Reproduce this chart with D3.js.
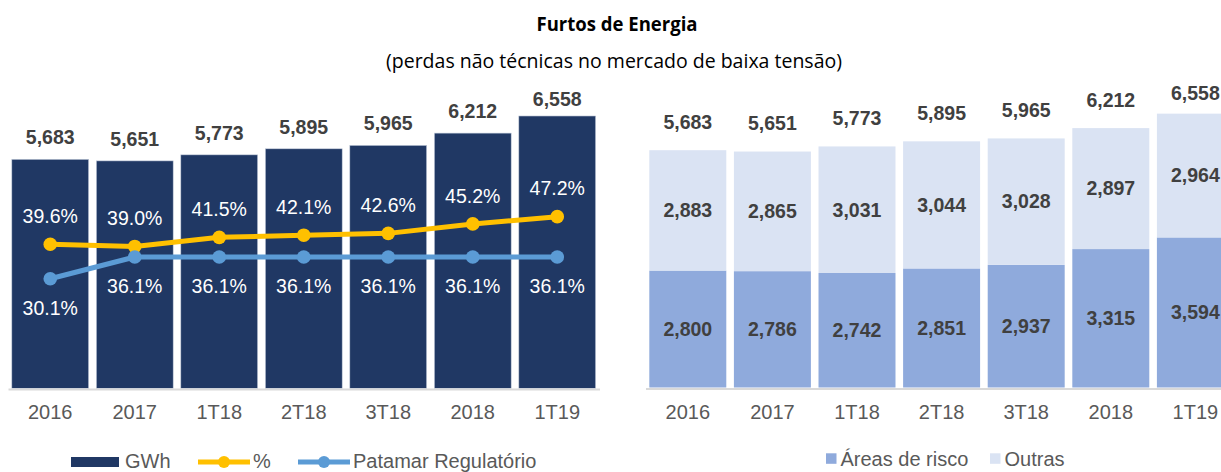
<!DOCTYPE html>
<html>
<head>
<meta charset="utf-8">
<script src="https://cdn.jsdelivr.net/npm/d3@7"></script>
<style>
  body { margin: 0; background: #fff; }
  svg { display: block; font-family: "Liberation Sans", Arial, sans-serif; }
</style>
</head>
<body>
<svg id="chart" width="1221" height="472"></svg>
<script>
// ---- data ----
const categories  = ["2016", "2017", "1T18", "2T18", "3T18", "2018", "1T19"];
const gwh         = [5683, 5651, 5773, 5895, 5965, 6212, 6558];
const pctLosses   = [0.396, 0.390, 0.415, 0.421, 0.426, 0.452, 0.472];
const regulatory  = [0.301, 0.361, 0.361, 0.361, 0.361, 0.361, 0.361];
const riskAreas   = [2800, 2786, 2742, 2851, 2937, 3315, 3594];
const others      = [2883, 2865, 3031, 3044, 3028, 2897, 2964];

const titleText    = "Furtos de Energia";
const subtitleText = "(perdas não técnicas no mercado de baixa tensão)";

const C = {
  navy: "#203864", yellow: "#FFC000", blue: "#5B9BD5",
  risk: "#8FAADC", other: "#DAE3F3", axis: "#D9D9D9",
  label: "#404040", tick: "#595959"
};

const svg = d3.select("#chart");
const fmtN = d3.format(",");
const fmtP = d3.format(".1%");

// ---- title ----
svg.append("text").attr("x", 617).attr("y", 31)
   .attr("text-anchor", "middle").attr("font-family", "'Open Sans', sans-serif")
   .attr("font-weight", "bold").attr("font-size", 20).attr("fill", "#000")
   .attr("textLength", 161).attr("lengthAdjust", "spacingAndGlyphs")
   .text(titleText);
svg.append("text").attr("x", 614).attr("y", 68)
   .attr("text-anchor", "middle").attr("font-family", "'Open Sans', sans-serif")
   .attr("font-size", 20).attr("fill", "#000")
   .attr("textLength", 456).attr("lengthAdjust", "spacingAndGlyphs")
   .text(subtitleText);

// ================= left chart: GWh bars + % lines =================
const baseY = 388.3;
const xL = d3.scaleBand().domain(categories).range([8, 599.5])
             .paddingInner(0.09).paddingOuter(0.045);
const yL = d3.scaleLinear().domain([1056, 7000]).range([baseY, 94.1]);
const yPct = d3.scaleLinear().domain([0, 1]).range([388, 25]);

const left = svg.append("g");

left.selectAll("rect.gwh").data(categories).join("rect")
    .attr("class", "gwh")
    .attr("x", d => xL(d)).attr("width", xL.bandwidth())
    .attr("y", (d, i) => yL(gwh[i]))
    .attr("height", (d, i) => baseY - yL(gwh[i]))
    .attr("fill", C.navy).attr("stroke", "#c9d1de").attr("stroke-width", 0.6);

// x axis
const axL = left.append("g").attr("transform", `translate(0,${baseY + 0.7})`)
    .call(d3.axisBottom(xL).tickSize(0).tickPadding(16));
axL.select(".domain").attr("stroke", C.axis).attr("stroke-width", 2);
axL.selectAll("text").attr("font-size", 20).attr("fill", C.tick)
   .attr("font-family", "'Liberation Sans', Arial, sans-serif");

// total labels above the bars
left.selectAll("text.tot").data(categories).join("text")
    .attr("class", "tot")
    .attr("x", d => xL(d) + xL.bandwidth() / 2)
    .attr("y", (d, i) => Math.max(yL(gwh[i]) - 22, 99))
    .attr("dy", "0.35em").attr("text-anchor", "middle")
    .attr("font-size", 19.5).attr("font-weight", "bold").attr("fill", C.label)
    .text((d, i) => fmtN(gwh[i]));

const cx = d => xL(d) + xL.bandwidth() / 2;
const lineGen = vals => d3.line().x(d => cx(d)).y((d, i) => yPct(vals[i]));

function drawSeries(vals, color, labelOffset) {
  left.append("path").datum(categories)
      .attr("d", lineGen(vals)).attr("fill", "none")
      .attr("stroke", color).attr("stroke-width", 5).attr("stroke-linejoin", "round");
  left.selectAll(null).data(categories).join("circle")
      .attr("cx", d => cx(d)).attr("cy", (d, i) => yPct(vals[i]))
      .attr("r", 6.8).attr("fill", color);
  left.selectAll(null).data(categories).join("text")
      .attr("x", d => cx(d)).attr("y", (d, i) => yPct(vals[i]) + labelOffset)
      .attr("dy", "0.35em").attr("text-anchor", "middle")
      .attr("font-size", 19.5).attr("fill", "#fff")
      .text((d, i) => fmtP(vals[i]));
}
drawSeries(pctLosses, C.yellow, -28);
drawSeries(regulatory, C.blue, 29);

// legend left (kept just inside the bottom edge)
const legY = 461;
const lgL = left.append("g").attr("font-size", 20).attr("fill", C.tick);
lgL.append("rect").attr("x", 71).attr("y", legY - 4).attr("width", 48).attr("height", 10).attr("fill", C.navy);
lgL.append("text").attr("x", 125).attr("y", legY).attr("dy", "0.35em").text("GWh");
[[198, C.yellow, "%"], [298, C.blue, "Patamar Regulatório"]].forEach(([x0, col, name]) => {
  lgL.append("line").attr("x1", x0).attr("x2", x0 + 52).attr("y1", legY + 1).attr("y2", legY + 1)
     .attr("stroke", col).attr("stroke-width", 5);
  lgL.append("circle").attr("cx", x0 + 26).attr("cy", legY + 1).attr("r", 6).attr("fill", col);
  lgL.append("text").attr("x", x0 + 55).attr("y", legY).attr("dy", "0.35em").text(name);
});

// ================= right chart: stacked bars =================
const baseR = 387.5;
const xR = d3.scaleBand().domain(categories).range([645.5, 1237.7])
             .paddingInner(0.09).paddingOuter(0.045);
const yR = d3.scaleLinear().domain([0, 7000]).range([baseR, 95.2]);

const rows = categories.map((c, i) => ({ cat: c, risk: riskAreas[i], other: others[i] }));
const stack = d3.stack().keys(["risk", "other"])(rows);
const fills = { risk: C.risk, other: C.other };

const right = svg.append("g");
right.selectAll("g.layer").data(stack).join("g")
  .attr("class", "layer").attr("fill", s => fills[s.key])
  .selectAll("rect").data(s => s).join("rect")
    .attr("x", d => xR(d.data.cat)).attr("width", xR.bandwidth())
    .attr("y", d => yR(d[1])).attr("height", d => yR(d[0]) - yR(d[1]));

// segment labels
stack.forEach(s => {
  right.selectAll(null).data(s).join("text")
    .attr("x", d => xR(d.data.cat) + xR.bandwidth() / 2)
    .attr("y", d => (yR(d[0]) + yR(d[1])) / 2)
    .attr("dy", "0.35em").attr("text-anchor", "middle")
    .attr("font-size", 19.5).attr("font-weight", "bold").attr("fill", C.label)
    .text(d => fmtN(d[1] - d[0]));
});

// totals
right.selectAll("text.tot").data(rows).join("text")
  .attr("class", "tot")
  .attr("x", d => xR(d.cat) + xR.bandwidth() / 2)
  .attr("y", d => Math.max(yR(d.risk + d.other) - 28, 93))
  .attr("dy", "0.35em").attr("text-anchor", "middle")
  .attr("font-size", 19.5).attr("font-weight", "bold").attr("fill", C.label)
  .text(d => fmtN(d.risk + d.other));

const axR = right.append("g").attr("transform", `translate(0,${baseR + 1})`)
    .call(d3.axisBottom(xR).tickSize(0).tickPadding(16));
axR.select(".domain").attr("stroke", C.axis).attr("stroke-width", 2);
axR.selectAll("text").attr("font-size", 20).attr("fill", C.tick)
   .attr("font-family", "'Liberation Sans', Arial, sans-serif");

// legend right
const lgR = right.append("g").attr("font-size", 20).attr("fill", C.tick);
[[826, C.risk, "Áreas de risco"], [990, C.other, "Outras"]].forEach(([x0, col, name]) => {
  lgR.append("rect").attr("x", x0).attr("y", 453.3).attr("width", 10.5).attr("height", 10.5).attr("fill", col);
  lgR.append("text").attr("x", x0 + 14.5).attr("y", 458.5).attr("dy", "0.35em").text(name);
});
</script>
</body>
</html>
